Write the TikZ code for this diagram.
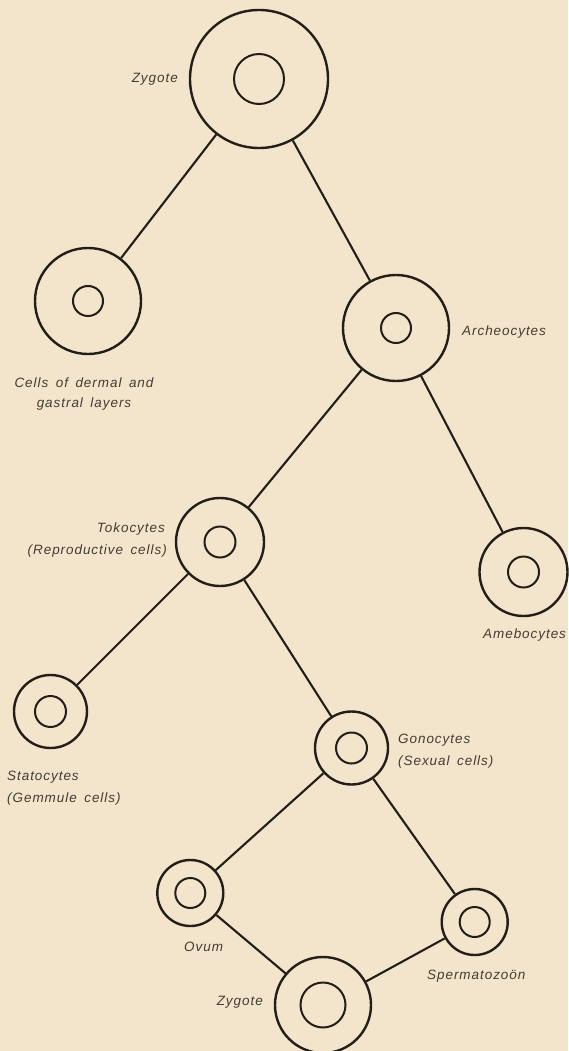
\documentclass[tikz,border=0pt]{standalone}
\usepackage{fontspec}
\newfontfamily\lblfont[LetterSpace=7,WordSpace=1.6]{Liberation Sans}
\definecolor{paper}{RGB}{243,229,203}
\definecolor{ink}{RGB}{36,30,25}
\begin{document}
\begin{tikzpicture}[x=1pt,y=-1pt,
  outer/.style={circle,draw=ink,line width=2.4pt,inner sep=0pt,minimum size=#1},
  inner/.style={circle,draw=ink,line width=2pt,inner sep=0pt,minimum size=#1},
  link/.style={draw=ink,line width=2.1pt},
  lbl/.style={font=\lblfont\itshape\fontsize{13.5}{21}\selectfont,text=ink!85!paper,inner sep=0pt}]
\fill[paper] (0,0) rectangle (568,1051);
\useasboundingbox (0,0) rectangle (568,1051);
% cells
\node[outer=138pt] (zyg1) at (259,79) {};     \node[inner=50pt] (zyg1i) at (zyg1) {};
\node[outer=106pt] (cells) at (88,301) {};    \node[inner=30pt] (cellsi) at (cells) {};
\node[outer=106pt] (arch) at (396,328) {};    \node[inner=30pt] (archi) at (arch) {};
\node[outer=88pt] (toko) at (220,542) {};     \node[inner=31pt] (tokoi) at (toko) {};
\node[outer=88pt] (ameb) at (523.5,572) {};   \node[inner=31pt] (amebi) at (ameb) {};
\node[outer=73pt] (stato) at (50.5,711.5) {}; \node[inner=31pt] (statoi) at (stato) {};
\node[outer=73pt] (gono) at (351.5,748) {};   \node[inner=31pt] (gonoi) at (gono) {};
\node[outer=66pt] (ovum) at (190.3,893) {};   \node[inner=30pt] (ovumi) at (ovum) {};
\node[outer=66pt] (sperm) at (474.7,922) {};  \node[inner=30pt] (spermi) at (sperm) {};
\node[outer=96pt] (zyg2) at (323,1005) {};    \node[inner=45pt] (zyg2i) at (zyg2) {};
% connectors
\draw[link] (zyg1) -- (cells);
\draw[link] (zyg1) -- (arch);
\draw[link] (arch) -- (toko);
\draw[link] (arch) -- (ameb);
\draw[link] (toko) -- (stato);
\draw[link] (toko) -- (gono);
\draw[link] (gono) -- (ovum);
\draw[link] (gono) -- (sperm);
\draw[link] (ovum) -- (zyg2);
\draw[link] (sperm) -- (zyg2);
% labels
\node[lbl,anchor=base east] (lzyg1) at (178,83) {Zygote};
\node[lbl,anchor=base] (lcells1) at (84,387) {Cells of dermal and};
\node[lbl,anchor=base] (lcells2) at (84,407) {gastral layers};
\node[lbl,anchor=base west] (larch) at (462,335) {Archeocytes};
\node[lbl,anchor=base east] (ltoko1) at (165,532) {Tokocytes};
\node[lbl,anchor=base east] (ltoko2) at (167,554) {(Reproductive cells)};
\node[lbl,anchor=base west] (lameb) at (483,638) {Amebocytes};
\node[lbl,anchor=base west] (lstato1) at (7,780) {Statocytes};
\node[lbl,anchor=base west] (lstato2) at (7,802) {(Gemmule cells)};
\node[lbl,anchor=base west] (lgono1) at (398,743) {Gonocytes};
\node[lbl,anchor=base west] (lgono2) at (398,765) {(Sexual cells)};
\node[lbl,anchor=base west] (lovum) at (184,951) {Ovum};
\node[lbl,anchor=base west] (lsperm) at (427,979) {Spermatozoön};
\node[lbl,anchor=base east] (lzyg2) at (263,1005) {Zygote};
\end{tikzpicture}
\end{document}
